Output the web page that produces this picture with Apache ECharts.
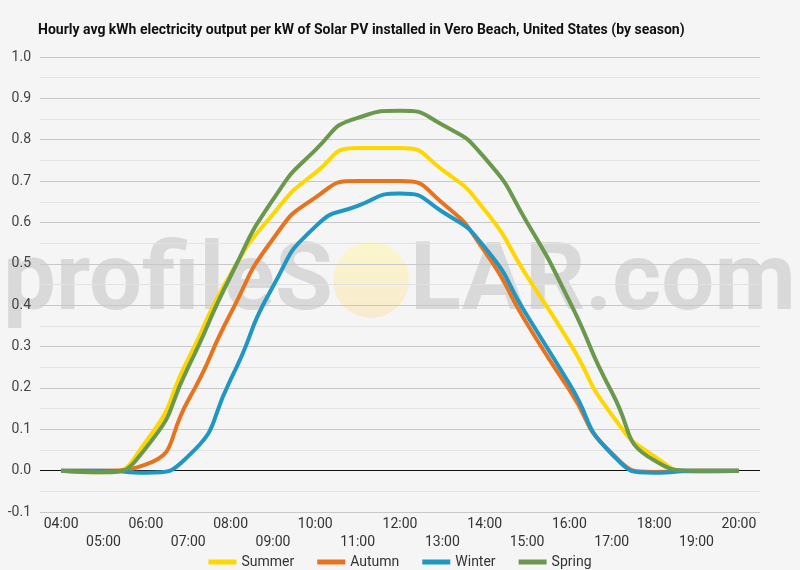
<!DOCTYPE html>
<html>
<head>
<meta charset="utf-8">
<script src="https://cdn.jsdelivr.net/npm/echarts@6/dist/echarts.min.js"></script>
<style>
html,body{margin:0;padding:0;background:#f5f5f5;}
#c{width:800px;height:570px;}
</style>
</head>
<body>
<div id="c"></div>
<script>
const hours = ['04:00','05:00','06:00','07:00','08:00','09:00','10:00','11:00','12:00','13:00','14:00','15:00','16:00','17:00','18:00','19:00','20:00'];
const summer = [0, -0.004, 0.07, 0.27, 0.475, 0.62, 0.72, 0.78, 0.78, 0.727, 0.63, 0.47, 0.31, 0.135, 0.035, -0.003, 0];
const autumn = [0, 0, 0.015, 0.17, 0.38, 0.56, 0.66, 0.70, 0.70, 0.647, 0.53, 0.355, 0.195, 0.042, -0.003, 0, 0];
const winter = [0, 0, -0.005, 0.035, 0.22, 0.445, 0.59, 0.64, 0.67, 0.626, 0.54, 0.375, 0.21, 0.04, -0.005, 0, 0];
const spring = [0, -0.004, 0.055, 0.25, 0.47, 0.655, 0.775, 0.853, 0.87, 0.836, 0.756, 0.60, 0.41, 0.19, 0.025, 0, 0];
const yTicks = [-0.1, 0.0, 0.1, 0.2, 0.3, 0.4, 0.5, 0.6, 0.7, 0.8, 0.9, 1.0];

const colors = ['#ffd700', '#e8731e', '#1f96c4', '#6a994e'];
const chart = echarts.init(document.getElementById('c'));
function mk(name, data, i, extra) {
  const s = {
    name: name, type: 'line', data: data, smooth: 0.6, symbol: 'none',
    lineStyle: {width: 4, color: colors[i]}, itemStyle: {color: colors[i]}, z: 3
  };
  return Object.assign(s, extra || {});
}
chart.setOption({
  backgroundColor: '#f5f5f5',
  textStyle: {fontFamily: 'Roboto'},
  title: {
    text: 'Hourly avg kWh electricity output per kW of Solar PV installed in Vero Beach, United States (by season)',
    left: 33, top: 18,
    textStyle: {fontSize: 14, fontWeight: 'bold', color: '#111', fontFamily: 'Roboto'}
  },
  graphic: [
    {type: 'text', z: -1, left: 3, top: 238, style: {text: 'profileS', font: 'bold 94px Roboto', fill: '#d9d9d9'}},
    {type: 'circle', z: -1, shape: {cx: 371, cy: 280, r: 38},
     style: {fill: {type: 'linear', x: 0, y: 0, x2: 0, y2: 1, colorStops: [{offset: 0, color: '#faf7cc'}, {offset: 1, color: '#f8ead0'}]}}},
    {type: 'text', z: -1, left: 410, top: 238, style: {text: 'LAR.com', font: 'bold 94px Roboto', fill: '#d9d9d9'}}
  ],
  legend: {
    top: 550, left: 'center', itemWidth: 28, itemHeight: 5, itemGap: 23,
    icon: 'rect',
    textStyle: {fontSize: 14, color: '#333', fontFamily: 'Roboto'},
    data: ['Summer', 'Autumn', 'Winter', 'Spring']
  },
  grid: {left: 40, right: 40, top: 57, bottom: 58, containLabel: false},
  xAxis: {
    type: 'category', data: hours, boundaryGap: true,
    axisLine: {show: false}, axisTick: {show: false},
    axisLabel: {
      interval: 0, margin: 3, fontSize: 14, color: '#333', lineHeight: 18,
      formatter: function (v, i) { return i % 2 ? '\n' + v : v; }
    }
  },
  yAxis: {
    type: 'value', min: yTicks[0], max: yTicks[yTicks.length - 1], interval: 0.1,
    axisLine: {show: false}, axisTick: {show: false},
    axisLabel: {fontSize: 14, color: '#444', margin: 9, formatter: function (v) { return v.toFixed(1); }},
    splitLine: {lineStyle: {color: '#c8c8c8', width: 1}},
    minorTick: {show: false, splitNumber: 2},
    minorSplitLine: {show: true, lineStyle: {color: '#e2e2e2', width: 1}}
  },
  series: [
    mk('Summer', summer, 0, {markLine: {silent: true, symbol: 'none', label: {show: false},
      lineStyle: {color: '#111', type: 'solid', width: 1}, data: [{yAxis: 0}], z: 2}}),
    mk('Autumn', autumn, 1),
    mk('Winter', winter, 2),
    mk('Spring', spring, 3)
  ]
});
</script>
</body>
</html>
